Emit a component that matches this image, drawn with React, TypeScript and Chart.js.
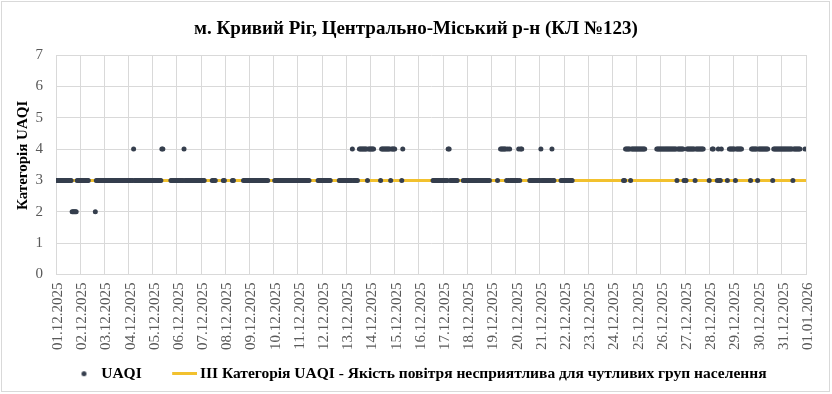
import React, { useEffect, useRef } from 'react';
import { Chart, registerables } from 'chart.js';

Chart.register(...registerables);

const chartTitle = 'м. Кривий Ріг, Центрально-Міський р-н (КЛ №123)';
const yAxisTitle = 'Категорія UAQI';
const seriesName = 'UAQI';
const thresholdName = 'ІІІ Категорія UAQI - Якість повітря несприятлива для чутливих груп населення';

const dateLabels = [
  '01.12.2025', '02.12.2025', '03.12.2025', '04.12.2025', '05.12.2025', '06.12.2025',
  '07.12.2025', '08.12.2025', '09.12.2025', '10.12.2025', '11.12.2025', '12.12.2025',
  '13.12.2025', '14.12.2025', '15.12.2025', '16.12.2025', '17.12.2025', '18.12.2025',
  '19.12.2025', '20.12.2025', '21.12.2025', '22.12.2025', '23.12.2025', '24.12.2025',
  '25.12.2025', '26.12.2025', '27.12.2025', '28.12.2025', '29.12.2025', '30.12.2025',
  '31.12.2025', '01.01.2026',
];

const yTicks = [0, 1, 2, 3, 4, 5, 6, 7];

// threshold line level (category III), from first to last date
const thresholdLevel = [3, 3];

// Hourly UAQI category, one string per day (hours 00..23), '.' = no data
const hourlyUAQI = [
  '333333333333333322222333', // 01.12
  '333333333......233333333', // 02.12
  '333333333333333333333333', // 03.12
  '333334333333333333333333', // 04.12
  '33333333344.......333333', // 05.12
  '333333343333333333333333', // 06.12
  '3333.......3333.......33', // 07.12
  '.......33.........333333', // 08.12
  '3333333333333333333.....', // 09.12
  '.33333333333333333333333', // 10.12
  '333333333333........3333', // 11.12
  '333333333........3333333', // 12.12
  '333333433333.44444444344', // 13.12
  '4444......34444444443444', // 14.12
  '4......34...............', // 15.12
  '..............3333333333', // 16.12
  '333334433333333.....3333', // 17.12
  '33333333333333333333333.', // 18.12
  '......3..444444343433333', // 19.12
  '3334344.......3333333333', // 20.12
  '343333333333433......333', // 21.12
  '333333333...............', // 22.12
  '........................', // 23.12
  '...........3344444344444', // 24.12
  '444444444...........4444', // 25.12
  '444444444444444434444443', // 26.12
  '3344444444344444444.....', // 27.12
  '3..44...34334.....3.4444', // 28.12
  '443444444........3444444', // 29.12
  '34444444444....344444444', // 30.12
  '4444444444434444444....4', // 31.12
];

const FONT = 'Liberation Serif';
const DOT_COLOR = '#353E4D';
const LINE_COLOR = '#F2C12E';
const GRID_COLOR = '#D9D9D9';
const TICK_COLOR = '#595959';

function buildPoints() {
  const pts: { x: number; y: number }[] = [];
  hourlyUAQI.forEach((day, d) => {
    for (let h = 0; h < day.length; h++) {
      const c = day[h];
      if (c !== '.') pts.push({ x: d * 24 + h, y: Number(c) });
    }
  });
  return pts;
}

export default function App() {
  const ref = useRef<HTMLCanvasElement | null>(null);

  useEffect(() => {
    if (!ref.current) return;
    const lastX = (dateLabels.length - 1) * 24;

    // legend marker for the scatter series: a dot, placed right of the box centre
    const dotImg = document.createElement('canvas');
    dotImg.width = 24;
    dotImg.height = 7;
    const dctx = dotImg.getContext('2d')!;
    dctx.fillStyle = DOT_COLOR;
    dctx.beginPath();
    dctx.arc(20.5, 3.5, 2.5, 0, Math.PI * 2);
    dctx.fill();

    // legend marker for the threshold line: a short yellow bar
    const lineImg = document.createElement('canvas');
    lineImg.width = 46;
    lineImg.height = 3;
    const lctx = lineImg.getContext('2d')!;
    lctx.fillStyle = LINE_COLOR;
    lctx.fillRect(21, 0, 25, 3);

    const frame = {
      id: 'frame',
      beforeDraw(chart: any) {
        const { ctx, width, height } = chart;
        ctx.save();
        ctx.fillStyle = '#ffffff';
        ctx.fillRect(0, 0, width, height);
        ctx.strokeStyle = GRID_COLOR;
        ctx.lineWidth = 1;
        ctx.strokeRect(1.5, 1.5, width - 4, height - 4);
        ctx.restore();
      },
    };

    // nudge the legend a few pixels left, as in the original
    const legendShift = {
      id: 'legendShift',
      afterLayout(chart: any) {
        if (chart.legend) {
          chart.legend.left -= 4;
          chart.legend.right -= 4;
        }
      },
    };

    const chart = new Chart(ref.current, {
      type: 'scatter',
      data: {
        datasets: [
          {
            type: 'scatter',
            label: seriesName,
            data: buildPoints(),
            pointRadius: 2.5,
            pointBackgroundColor: DOT_COLOR,
            pointBorderWidth: 0,
            showLine: false,
          } as any,
          {
            type: 'line',
            label: thresholdName,
            data: [
              { x: 0, y: thresholdLevel[0] },
              { x: lastX, y: thresholdLevel[1] },
            ],
            borderColor: LINE_COLOR,
            backgroundColor: LINE_COLOR,
            borderWidth: 3,
            pointRadius: 0,
            fill: false,
          } as any,
        ],
      },
      options: {
        responsive: false,
        animation: false,
        events: [],
        layout: { padding: { left: 0, right: 0, top: 0, bottom: 2.5 } },
        plugins: {
          tooltip: { enabled: false },
          title: {
            display: true,
            text: chartTitle,
            color: '#000000',
            font: { family: FONT, size: 19, weight: 'bold' },
            padding: { top: 18, bottom: 14.2 },
          },
          legend: {
            position: 'bottom',
            labels: {
              usePointStyle: true,
              pointStyleWidth: 36,
              boxHeight: 15,
              padding: 14.5,
              color: '#000000',
              font: { family: FONT, size: 15.5, weight: 'bold' },
              generateLabels: (c: any) => {
                const items = (Chart.defaults.plugins.legend.labels as any).generateLabels(c);
                items[0].pointStyle = dotImg;
                items[1].pointStyle = lineImg;
                return items;
              },
            },
          },
        },
        scales: {
          x: {
            type: 'linear',
            min: 0,
            max: lastX,
            ticks: {
              stepSize: 24,
              autoSkip: false,
              minRotation: 90,
              maxRotation: 90,
              padding: 8,
              labelOffset: 2,
              color: TICK_COLOR,
              font: { family: FONT, size: 15 },
              callback: (v: any) => dateLabels[Math.round(Number(v) / 24)] ?? '',
            },
            grid: { color: GRID_COLOR, drawTicks: false },
            border: { color: GRID_COLOR },
            afterFit: (s: any) => {
              s.height = 77;
            },
          },
          y: {
            min: yTicks[0],
            max: yTicks[yTicks.length - 1],
            ticks: {
              stepSize: 1,
              padding: 13,
              color: TICK_COLOR,
              font: { family: FONT, size: 15 },
            },
            grid: { color: GRID_COLOR, drawTicks: false },
            border: { color: GRID_COLOR },
            title: {
              display: true,
              text: '\u00A0\u00A0\u00A0\u00A0\u00A0' + yAxisTitle,
              color: '#000000',
              font: { family: FONT, size: 15, weight: 'bold' },
              padding: { top: 14, bottom: 0 },
            },
            afterFit: (s: any) => {
              s.width = 56;
            },
          },
          yRight: {
            position: 'right',
            display: true,
            grid: { display: false },
            ticks: { display: false },
            border: { display: false },
            afterFit: (s: any) => {
              s.width = 18;
            },
          },
        },
      } as any,
      plugins: [frame, legendShift],
    });

    return () => chart.destroy();
  }, []);

  return (
    <div style={{ position: 'absolute', left: 0, top: 0, width: 832, height: 394 }}>
      <canvas ref={ref} width={832} height={394} style={{ display: 'block' }} />
    </div>
  );
}
